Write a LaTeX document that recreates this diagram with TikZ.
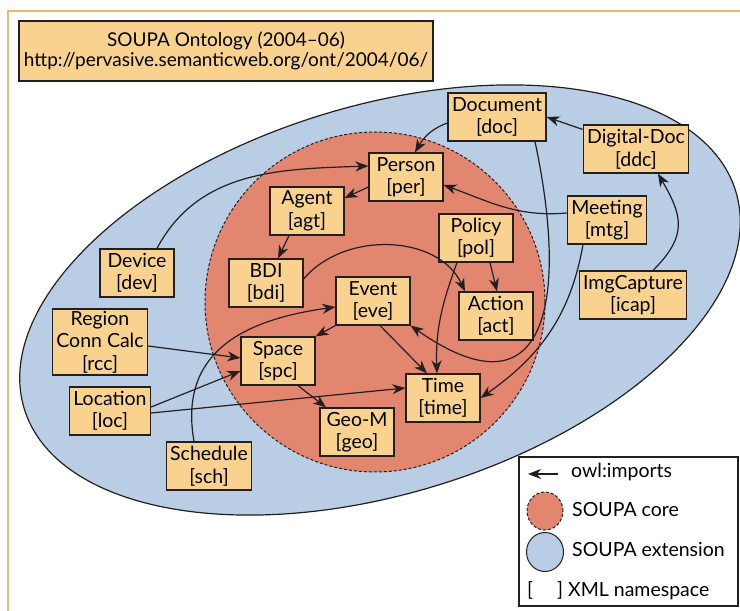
\documentclass[tikz,border=0pt]{standalone}
\usepackage{fontspec}
\setmainfont{Lato}
\usetikzlibrary{arrows.meta}

\definecolor{boxfill}{HTML}{F8D28E}
\definecolor{extfill}{HTML}{B9CDE5}
\definecolor{corefill}{HTML}{E3866F}
\definecolor{frameline}{HTML}{EDBB6B}
\definecolor{ink}{HTML}{231F20}

\newcommand{\nsprefix}[1]{[#1]}

\begin{document}
\begin{tikzpicture}[x=1pt, y=1pt,
    term/.style={draw=ink, line width=1.2pt, fill=boxfill, align=center,
      minimum width=74pt, minimum height=48pt, inner xsep=4pt, inner ysep=2pt,
      font=\fontsize{19.5}{22.5}\selectfont},
    imports/.style={draw=ink, line width=1.2pt,
      -{Stealth[length=13pt, width=10pt, inset=4pt]}},
    keytext/.style={anchor=base west, inner sep=0pt, font=\fontsize{19.5}{22.5}\selectfont}]
  \useasboundingbox (0,0) rectangle (740,611);

  % page frame
  \draw[frameline, line width=1.2pt] (8,0) -- (8,600) -- (740,600);

  % extension and core
  \draw[ink, line width=1.2pt, fill=extfill, rotate around={17:(380,311)}]
    (380,311) ellipse [x radius=372, y radius=194];
  \draw[ink, line width=1pt, fill=corefill, dash pattern=on 3pt off 2pt]
    (375,309) circle [radius=170];

  % title
  \node[term, minimum width=414pt, minimum height=60pt, inner ysep=2pt,
    font=\fontsize{19}{20.5}\selectfont] (title) at (226,560)
    {SOUPA Ontology (2004--06)\\http://pervasive.semanticweb.org/ont/2004/06/};

  % ontologies
  \node[term] (doc)  at (497,494) {Document\\\nsprefix{doc}};
  \node[term] (ddc)  at (636,462) {Digital-Doc\\\nsprefix{ddc}};
  \node[term] (per)  at (406,434) {Person\\\nsprefix{per}};
  \node[term] (agt)  at (307,400) {Agent\\\nsprefix{agt}};
  \node[term] (pol)  at (476,373) {Policy\\\nsprefix{pol}};
  \node[term] (bdi)  at (266,328) {BDI\\\nsprefix{bdi}};
  \node[term] (eve)  at (373,310) {Event\\\nsprefix{eve}};
  \node[term] (act)  at (496,295) {Action\\\nsprefix{act}};
  \node[term] (spc)  at (278,250) {Space\\\nsprefix{spc}};
  \node[term] (time) at (443,213) {Time\\\nsprefix{time}};
  \node[term] (geo)  at (357,179) {Geo-M\\\nsprefix{geo}};
  \node[term] (mtg)  at (607,391) {Meeting\\\nsprefix{mtg}};
  \node[term] (icap) at (633,316) {ImgCapture\\\nsprefix{icap}};
  \node[term] (dev)  at (137,338) {Device\\\nsprefix{dev}};
  \node[term] (rcc)  at (100,269) {Region\\Conn Calc\\\nsprefix{rcc}};
  \node[term] (loc)  at (110,200) {Location\\\nsprefix{loc}};
  \node[term] (sch)  at (209,145) {Schedule\\\nsprefix{sch}};

  % owl:imports
  \draw[imports] ([yshift=-6]doc.west) to[out=200, in=60] ([xshift=9]per.north);
  \draw[imports] ([yshift=-5]ddc.north west) -- (doc.east);
  \draw[imports] ([xshift=20]icap.north) to[out=45, in=-60, looseness=1.3] ([xshift=22]ddc.south);
  \draw[imports] ([yshift=7]mtg.west) to[out=185, in=-20] ([yshift=-8]per.east);
  \draw[imports] ([xshift=-24]mtg.south) to[out=-100, in=35] (time.east);
  \draw[imports] ([xshift=38]doc.south) to[out=-78, in=-35, looseness=1.9] (eve.south east);
  \draw[imports] ([xshift=14]pol.south) -- ([xshift=1]act.north);
  \draw[imports] ([xshift=-19]pol.south) to[out=-110, in=92] ([xshift=-6]time.north);
  \draw[imports] ([yshift=4]bdi.east) to[out=50, in=115] ([xshift=-31]act.north);
  \draw[imports] ([yshift=-10]per.west) -- ([yshift=13]agt.east);
  \draw[imports] ([xshift=-18]agt.south) -- ([xshift=12]bdi.north);
  \draw[imports] ([xshift=20]dev.north) to[out=62, in=182] ([yshift=11]per.west);
  \draw[imports] (eve.south west) -- (spc.north east);
  \draw[imports] ([xshift=7]eve.south) -- ([xshift=-16]time.north);
  \draw[imports] ([xshift=20]spc.south) -- ([xshift=-31]geo.north);
  \draw[imports] ([yshift=-4]rcc.east) -- ([yshift=3]spc.west);
  \draw[imports] ([yshift=4]loc.east) -- ([yshift=-10]spc.west);
  \draw[imports] ([yshift=-2]loc.east) -- ([yshift=10]time.west);
  \draw[imports] ([xshift=-15]sch.north) to[out=100, in=188, looseness=1.2] ([yshift=-6]eve.west);

  % legend
  \draw[ink, line width=1.2pt] (519,5) rectangle (738,154);
  \coordinate (keyfrom) at (558,137);
  \coordinate (keyto) at (528,137);
  \draw[imports] (keyfrom) -- (keyto);
  \node[keytext] (keyimp) at (571,133) {owl:imports};
  \draw[ink, line width=1pt, fill=corefill, dash pattern=on 3pt off 2pt]
    (545,100) ellipse [x radius=18, y radius=19];
  \node[keytext] (keycore) at (572,94) {SOUPA core};
  \draw[ink, line width=1pt, fill=extfill] (545,59) ellipse [x radius=18.5, y radius=19.5];
  \node[keytext] (keyext) at (572,54) {SOUPA extension};
  \node[keytext] (keyns) at (527,14) {[\hspace{24pt}]\hspace{5pt}XML namespace};
\end{tikzpicture}
\end{document}
